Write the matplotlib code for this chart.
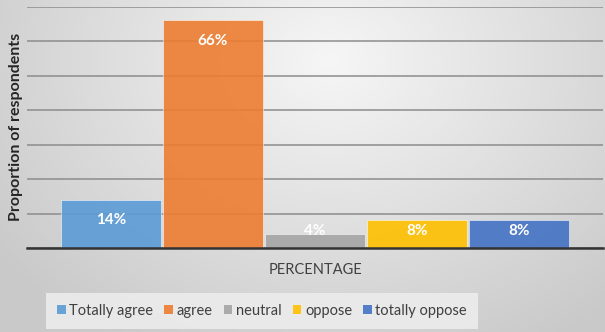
import numpy as np
import matplotlib
matplotlib.use("Agg")
import matplotlib.pyplot as plt
from matplotlib.patches import Patch

# data
categories = ["Totally agree", "agree", "neutral", "oppose", "totally oppose"]
values = [14, 66, 4, 8, 8]
labels = ["14%", "66%", "4%", "8%", "8%"]
colors = ["#5b9bd5", "#ed7d31", "#a5a5a5", "#ffc000", "#4472c4"]

plt.rcParams["font.family"] = ["Lato", "DejaVu Sans"]

fig = plt.figure(figsize=(6.05, 3.32), dpi=100)

# radial grey background
bg = fig.add_axes([0, 0, 1, 1], zorder=0)
yy, xx = np.mgrid[0:332, 0:605]
r = np.sqrt(((xx - 330) / 400.0) ** 2 + ((yy - 60) / 320.0) ** 2)
shade = np.clip(0.965 - 0.17 * r, 0.79, 0.965)
bg.imshow(np.dstack([shade, shade, shade]), aspect="auto", extent=[0, 1, 0, 1])
bg.axis("off")

ax = fig.add_axes([27 / 605, 0.253, 576 / 605, 0.727], zorder=1)
ax.patch.set_alpha(0)

x = np.arange(len(values))
ax.bar(x, values, width=0.985, color=colors, alpha=0.9, edgecolor="white",
       linewidth=0.4, zorder=3)

for xi, v, lab in zip(x, values, labels):
    ax.text(xi, max(v - 6, 5), lab, ha="center", va="center", color="white",
            fontsize=11, fontweight="bold", zorder=4)

ax.set_xlim(-0.5 - 0.324, 4.5 + 0.324)
ax.set_ylim(0, 70)
ax.set_yticks(range(0, 71, 10))
ax.yaxis.grid(True, color="#8c8c8c", linewidth=1.1, zorder=1)
ax.tick_params(left=False, bottom=False, labelleft=False, labelbottom=False)
for s in ["top", "right", "left"]:
    ax.spines[s].set_visible(False)
ax.spines["bottom"].set_color("#333333")
ax.spines["bottom"].set_linewidth(1.8)
ax.spines["bottom"].set_zorder(5)

fig.text(16 / 605, 1 - 127 / 332, "Proportion of respondents", rotation=90,
         ha="center", va="center", fontsize=11.5, fontweight="bold", color="#262626")
fig.text(315 / 605, 1 - 270 / 332, "PERCENTAGE", ha="center", va="center",
         fontsize=10.5, color="#404040")

handles = [Patch(facecolor=c, alpha=0.9) for c in colors]
leg = fig.legend(handles, categories, loc="center", bbox_to_anchor=(262 / 605, 1 - 311 / 332),
                 ncol=5, frameon=True, fontsize=10.5, handlelength=0.6, handleheight=0.6,
                 handletextpad=0.25, columnspacing=0.75, borderpad=0.55)
leg.get_frame().set_facecolor("#ececec")
leg.get_frame().set_edgecolor("none")
leg.get_frame().set_alpha(0.9)
leg.get_frame().set_boxstyle("square", pad=0.2)
for t in leg.get_texts():
    t.set_color("#404040")

fig.savefig("out.png", dpi=100)
